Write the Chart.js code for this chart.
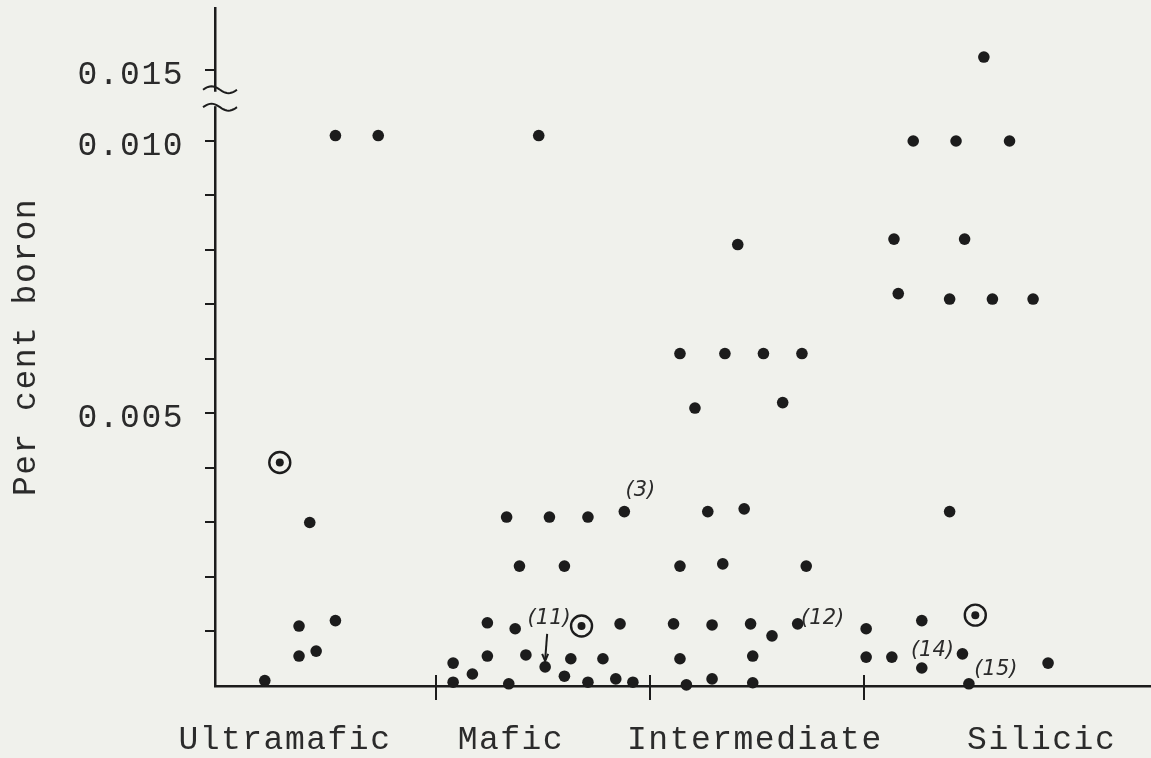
<!DOCTYPE html>
<html>
<head>
<meta charset="utf-8">
<script src="https://cdn.jsdelivr.net/npm/chart.js@4"></script>
<style>
    html, body { margin: 0; padding: 0; background: #f0f1ec; overflow: hidden; }
    #wrap { width: 1151px; height: 758px; position: relative; }
    canvas { display: block; }
</style>
</head>
<body>
<div id="wrap"><canvas id="boron-chart"></canvas></div>
<script>
// Rock groups along the x axis (boundaries sit at 1, 2 and 3)
const categories = ['Ultramafic', 'Mafic', 'Intermediate', 'Silicic'];
const categoryCentres = [0.294, 1.35, 2.49, 3.83];
const categoryBounds = [1, 2, 3];

// Per cent boron, one dot per sample; x is the spread position inside each group
const ultramaficX = [0.20, 0.27, 0.41, 0.36, 0.53, 0.36, 0.44, 0.53, 0.73];
const ultramaficB = [0.0001, 0.0041, 0.0030, 0.0011, 0.0012, 0.00055, 0.00064, 0.0101, 0.0101];

const maficX = [1.48, 1.33, 1.53, 1.71, 1.88, 1.39, 1.60, 1.24, 1.37, 1.68, 1.86, 1.08,
    1.24, 1.42, 1.51, 1.63, 1.78, 1.17, 1.60, 1.08, 1.34, 1.71, 1.84, 1.92];
const maficB = [0.0101, 0.0031, 0.0031, 0.0031, 0.0032, 0.0022, 0.0022, 0.00116, 0.00105, 0.0011, 0.00114, 0.00042,
    0.00055, 0.00057, 0.00035, 0.0005, 0.0005, 0.00022, 0.00018, 0.00007, 0.00004, 0.00007, 0.00013, 0.00007];

const intermediateX = [2.41, 2.14, 2.35, 2.53, 2.71, 2.21, 2.62, 2.27, 2.44, 2.14, 2.34,
    2.73, 2.11, 2.29, 2.47, 2.57, 2.69, 2.14, 2.48, 2.17, 2.29, 2.48];
const intermediateB = [0.0081, 0.0061, 0.0061, 0.0061, 0.0061, 0.0051, 0.0052, 0.0032, 0.00325, 0.0022, 0.00224,
    0.0022, 0.00114, 0.00112, 0.00114, 0.00092, 0.00114, 0.0005, 0.00055, 0.00002, 0.00013, 0.00006];

const silicicX = [3.56, 3.23, 3.43, 3.68, 3.14, 3.47, 3.16, 3.40, 3.60, 3.79,
    3.40, 3.52, 3.01, 3.27, 3.01, 3.13, 3.46, 3.27, 3.49, 3.86];
const silicicB = [0.016, 0.0100, 0.0100, 0.0100, 0.0082, 0.0082, 0.0072, 0.0071, 0.0071, 0.0071,
    0.0032, 0.0013, 0.00105, 0.0012, 0.00053, 0.00053, 0.00059, 0.00033, 0.00004, 0.00042];

// Ringed samples and numbered samples: [group, index in that group]
const circledPoints = [['Ultramafic', 1], ['Mafic', 9], ['Silicic', 11]];
const noteLabels = ['(3)', '(11)', '(12)', '(14)', '(15)'];
const notePoints = [['Mafic', 4], ['Mafic', 14], ['Intermediate', 16], ['Silicic', 16], ['Silicic', 18]];

// Y axis ticks (per cent boron)
const yTicks = [0.001, 0.002, 0.003, 0.004, 0.005, 0.006, 0.007, 0.008, 0.009, 0.010, 0.015];
const yTickLabels = ['', '', '', '', '0.005', '', '', '', '', '0.010', '0.015'];

// Broken axis: anything above the break is squeezed into the top strip
const BREAK_AT = 0.0105;
const BREAK_TICK = 0.0113;     // where 0.015 lands on the plotted scale
const BREAK_SQUEEZE = 0.24;
const BREAK_UPPER = 0.01094;
const BREAK_LOWER = 0.01062;

const PAPER = '#f0f1ec';
const INK = '#1c1c1c';
const TEXT = '#2b2b2b';
const TYPE_FONT = 'Liberation Mono';

function disp(v) {
    return v <= BREAK_AT ? v : BREAK_TICK + (v - 0.015) * BREAK_SQUEEZE;
}

const groups = {
    Ultramafic: { x: ultramaficX, b: ultramaficB },
    Mafic: { x: maficX, b: maficB },
    Intermediate: { x: intermediateX, b: intermediateB },
    Silicic: { x: silicicX, b: silicicB }
};

function isCircled(name, i) {
    return circledPoints.some(([g, idx]) => g === name && idx === i);
}

const datasets = categories.map(name => ({
    label: name,
    data: groups[name].x.map((x, i) => ({ x, y: disp(groups[name].b[i]) })),
    backgroundColor: INK,
    borderColor: INK,
    borderWidth: 0,
    pointRadius: ctx => isCircled(name, ctx.dataIndex) ? 4 : 5.8,
    clip: false
}));

datasets.push({
    label: 'ringed',
    data: circledPoints.map(([g, i]) => ({ x: groups[g].x[i], y: disp(groups[g].b[i]) })),
    backgroundColor: 'rgba(0,0,0,0)',
    borderColor: INK,
    borderWidth: 2.4,
    pointRadius: 10.5,
    clip: false
});

const decorations = {
    id: 'decorations',
    beforeDraw(chart) {
        chart.ctx.letterSpacing = '1.5px';
    },
    afterDraw(chart) {
        const { ctx, scales: { x, y } } = chart;
        ctx.save();
        ctx.letterSpacing = '0px';
        ctx.strokeStyle = INK;
        ctx.fillStyle = INK;
        ctx.lineWidth = 2;

        // group boundary marks across the base line
        categoryBounds.forEach(b => {
            const px = x.getPixelForValue(b);
            ctx.beginPath();
            ctx.moveTo(px, y.bottom - 11);
            ctx.lineTo(px, y.bottom + 14);
            ctx.stroke();
        });

        // axis break
        const yU = y.getPixelForValue(BREAK_UPPER);
        const yL = y.getPixelForValue(BREAK_LOWER);
        ctx.fillStyle = PAPER;
        ctx.fillRect(x.left - 3, yU + 2, 6, yL - yU - 3);
        [yU, yL].forEach(cy => {
            ctx.beginPath();
            for (let t = 0; t <= 1.0001; t += 0.05) {
                const px = x.left - 12 + t * 34;
                const py = cy - 3.5 * Math.sin(t * 2 * Math.PI);
                if (t === 0) ctx.moveTo(px, py); else ctx.lineTo(px, py);
            }
            ctx.stroke();
        });

        // numbered samples
        const offsets = [[16, -21], [4, -48], [25, -5], [-30, -3], [27, -14]];
        ctx.fillStyle = TEXT;
        ctx.font = 'italic 21px "DejaVu Sans"';
        ctx.textAlign = 'center';
        ctx.textBaseline = 'middle';
        noteLabels.forEach((label, k) => {
            const [g, i] = notePoints[k];
            const px = x.getPixelForValue(groups[g].x[i]);
            const py = y.getPixelForValue(disp(groups[g].b[i]));
            const [dx, dy] = offsets[k];
            ctx.fillText(label, px + dx, py + dy);
            if (label === '(11)') {
                // little arrow down to the dot
                ctx.beginPath();
                ctx.moveTo(px + 2, py + dy + 15);
                ctx.lineTo(px, py - 7);
                ctx.stroke();
                ctx.beginPath();
                ctx.moveTo(px - 3, py - 13);
                ctx.lineTo(px, py - 6);
                ctx.lineTo(px + 3, py - 13);
                ctx.stroke();
            }
        });
        ctx.restore();
    }
};

new Chart(document.getElementById('boron-chart'), {
    type: 'scatter',
    data: { datasets },
    plugins: [decorations],
    options: {
        responsive: true,
        maintainAspectRatio: false,
        animation: false,
        layout: { autoPadding: false, padding: { top: 8, right: 0, bottom: 0, left: 0 } },
        plugins: {
            legend: { display: false },
            tooltip: { enabled: false }
        },
        scales: {
            x: {
                type: 'linear',
                min: -0.0327,
                max: 4.341,
                afterBuildTicks: s => { s.ticks = categoryCentres.map(v => ({ value: v })); },
                afterFit: s => { s.height = 72; s.paddingLeft = 0; s.paddingRight = 0; },
                ticks: {
                    callback: (v, i) => categories[i],
                    color: TEXT,
                    font: { family: TYPE_FONT, size: 33 },
                    padding: 34,
                    maxRotation: 0,
                    autoSkip: false
                },
                grid: { drawOnChartArea: false, drawTicks: false },
                border: { color: INK, width: 2.5 }
            },
            y: {
                min: 0,
                max: 0.01244,
                afterBuildTicks: s => { s.ticks = yTicks.map(v => ({ value: disp(v) })); },
                afterFit: s => { s.width = 215; s.paddingTop = 0; s.paddingBottom = 0; },
                ticks: {
                    callback: (v, i) => yTickLabels[i],
                    color: TEXT,
                    font: { family: TYPE_FONT, size: 33 },
                    padding: 21,
                    labelOffset: 5,
                    autoSkip: false
                },
                grid: { drawOnChartArea: false, tickLength: 10, color: INK, lineWidth: 2 },
                border: { color: INK, width: 2.5 },
                title: {
                    display: true,
                    text: 'Per cent boron',
                    color: TEXT,
                    font: { family: TYPE_FONT, size: 33 },
                    padding: { top: 6, bottom: 0 }
                }
            }
        }
    }
});
</script>
</body>
</html>
